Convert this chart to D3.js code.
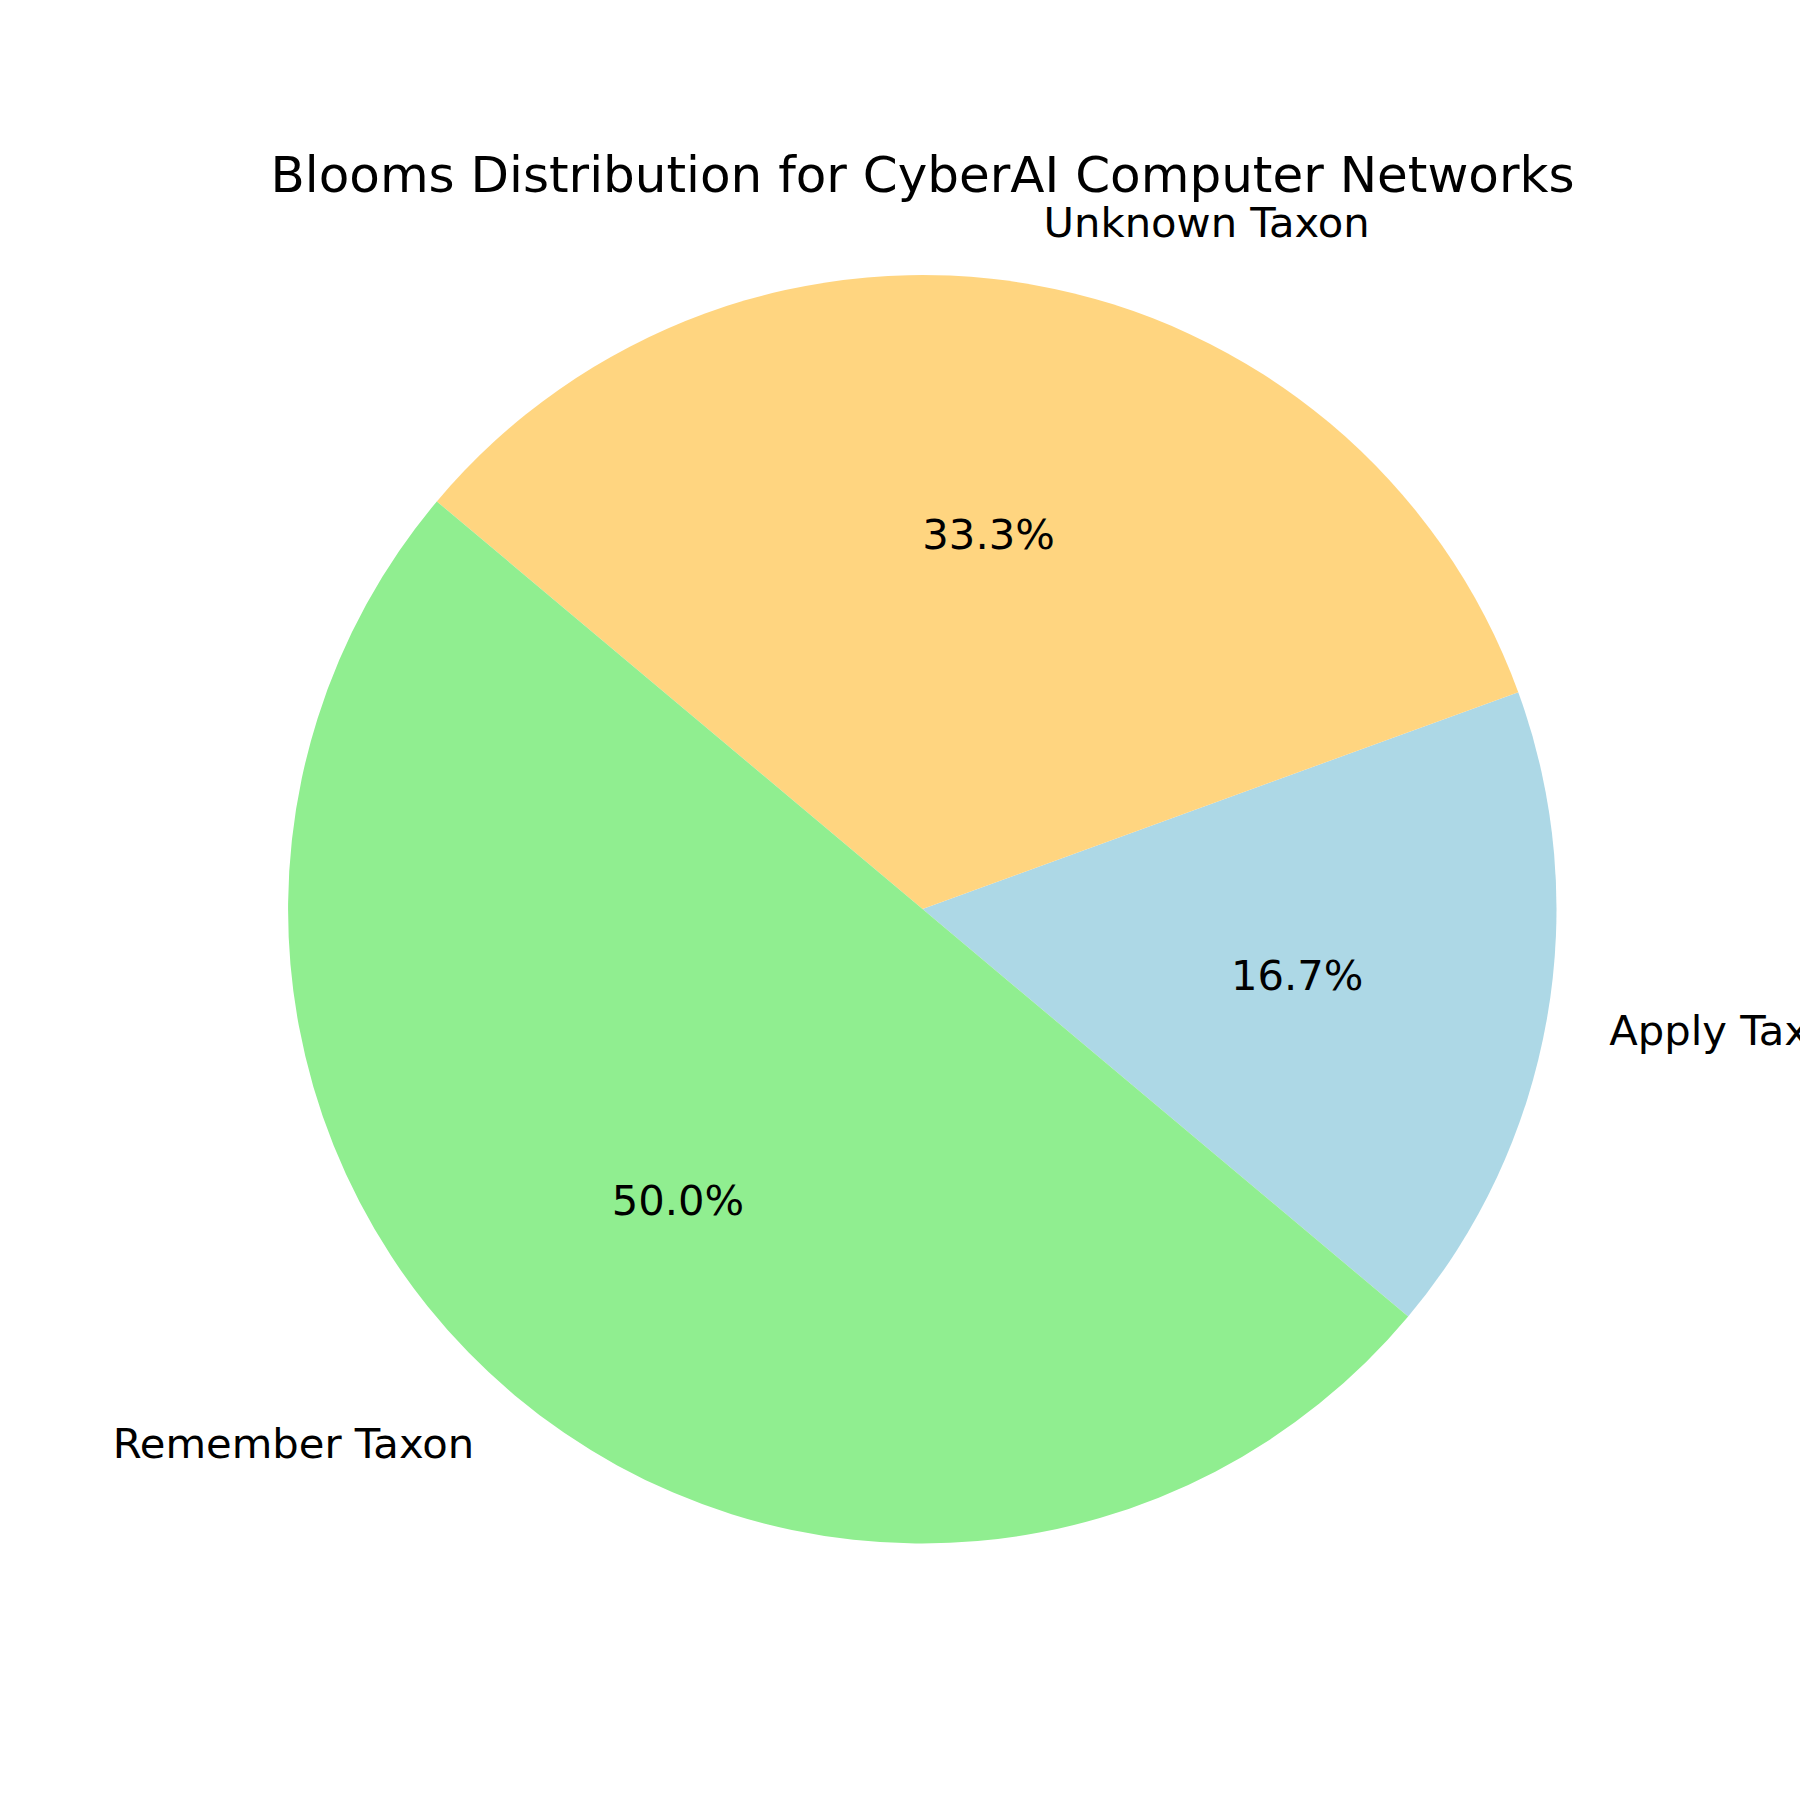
<!DOCTYPE html>
<html>
<head>
<meta charset="utf-8">
<script src="https://cdn.jsdelivr.net/npm/d3@7"></script>
<style>
  html, body { margin: 0; padding: 0; background: #fff; }
  svg { display: block; }
  text { font-family: "DejaVu Sans", sans-serif; fill: #000; }
</style>
</head>
<body>
<svg id="chart" width="1800" height="1800"></svg>
<script>
const categories = ["Apply Taxon", "Unknown Taxon", "Remember Taxon"];
const values = [1, 2, 3];
const colors = ["#ADD8E6", "#FFD580", "#90EE90"];
const title = "Blooms Distribution for CyberAI Computer Networks";

const W = 1800, H = 1800;
const cx = 922.5, cy = 909, R = 634;
const startDeg = -40; // matplotlib startangle (counterclockwise from +x)
const labelSize = 41.7;

const svg = d3.select("#chart");
svg.append("rect").attr("width", W).attr("height", H).attr("fill", "#fff");

const total = d3.sum(values);
const angle = d3.scaleLinear().domain([0, total]).range([0, 360]);

// matplotlib angle (deg, ccw from +x) -> d3 arc angle (rad, cw from 12 o'clock)
const toD3 = deg => (90 - deg) * Math.PI / 180;

let cum = 0;
const slices = values.map((v, i) => {
  const a0 = startDeg + angle(cum);
  cum += v;
  const a1 = startDeg + angle(cum);
  return { i, v, a0, a1, mid: (a0 + a1) / 2 };
});

const arc = d3.arc().innerRadius(0).outerRadius(R);
const g = svg.append("g").attr("transform", `translate(${cx},${cy})`);

g.selectAll("path").data(slices).enter().append("path")
  .attr("d", d => arc({ startAngle: toD3(d.a1), endAngle: toD3(d.a0) }))
  .attr("fill", d => colors[d.i]);

// category labels at 1.1 R
g.selectAll("text.lab").data(slices).enter().append("text")
  .attr("class", "lab")
  .attr("x", d => 1.1 * R * Math.cos(d.mid * Math.PI / 180))
  .attr("y", d => -1.1 * R * Math.sin(d.mid * Math.PI / 180))
  .attr("text-anchor", d => Math.cos(d.mid * Math.PI / 180) > 0 ? "start" : "end")
  .attr("dominant-baseline", "central")
  .attr("font-size", labelSize)
  .text(d => categories[d.i]);

// percentage labels at 0.6 R
g.selectAll("text.pct").data(slices).enter().append("text")
  .attr("class", "pct")
  .attr("x", d => 0.6 * R * Math.cos(d.mid * Math.PI / 180))
  .attr("y", d => -0.6 * R * Math.sin(d.mid * Math.PI / 180))
  .attr("text-anchor", "middle")
  .attr("dominant-baseline", "central")
  .attr("font-size", labelSize)
  .text(d => (d.v / total * 100).toFixed(1) + "%");

svg.append("text")
  .attr("x", 922.5).attr("y", 192)
  .attr("text-anchor", "middle")
  .attr("font-size", 50)
  .text(title);
</script>
</body>
</html>
